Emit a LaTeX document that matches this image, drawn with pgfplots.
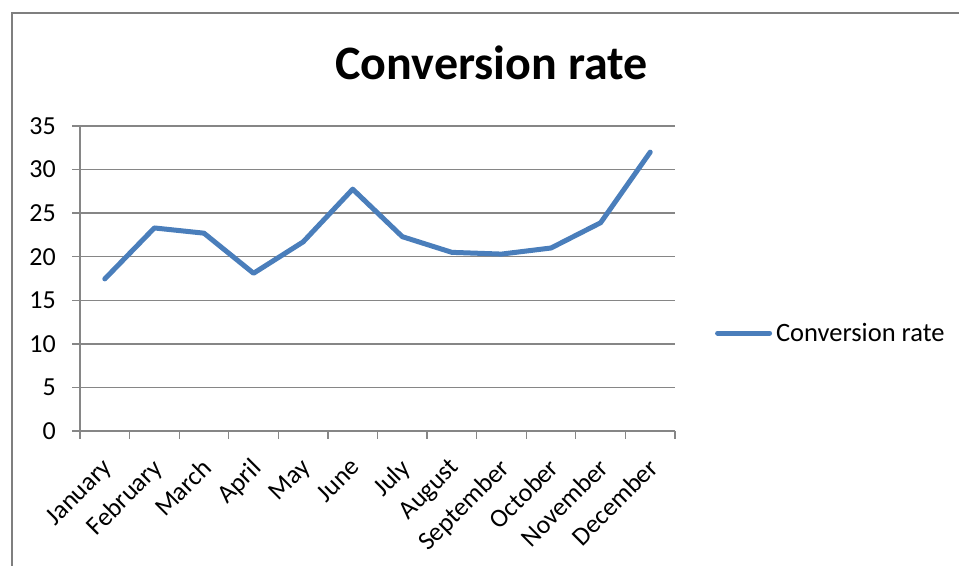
\documentclass[border=0pt]{standalone}
\usepackage{fontspec}
\setmainfont{Carlito}
\usepackage{pgfplots}
\pgfplotsset{compat=1.18}
\definecolor{seriesblue}{HTML}{4A7EBB}
\definecolor{axisgray}{HTML}{868686}
\definecolor{framegray}{HTML}{7F7F7F}
\begin{document}
\begin{tikzpicture}[x=1bp,y=1bp]
\path[use as bounding box] (0,0) rectangle (959,566);
% chart frame (left and top edges)
\draw[framegray, line width=2bp] (12,-5) -- (12,553) -- (965,553);
% chart title
\node[anchor=base, inner sep=0, font=\fontsize{48bp}{56bp}\selectfont\bfseries] at (491.5,486) {Conversion rate};
\begin{axis}[
  at={(80bp,135bp)}, anchor=south west,
  scale only axis, width=595bp, height=305bp,
  xmin=-0.5, xmax=11.5, ymin=0, ymax=35,
  ytick={0,5,...,35},
  xtick={0,...,11},
  xticklabels={January,February,March,April,May,June,July,August,September,October,November,December},
  minor xtick={-0.5,0.5,...,11.5},
  axis x line*=bottom, axis y line*=left,
  axis line style={axisgray, line width=1.3bp},
  tick align=outside,
  major tick length=8bp, minor tick length=8bp,
  major x tick style={draw=none},
  every tick/.style={axisgray, line width=1.3bp},
  ymajorgrids,
  major grid style={axisgray, line width=1.3bp},
  /pgf/number format/assume math mode=true,
  tick label style={font=\fontsize{26bp}{30bp}\selectfont, text=black},
  yticklabel style={inner sep=0pt, xshift=-16bp},
  xticklabel style={rotate=45, anchor=north east, inner sep=0pt, xshift=-15bp, yshift=-10bp},
  legend style={at={(1.067,0.321)}, anchor=west, draw=none, fill=none, inner sep=0pt,
    font=\fontsize{26.5bp}{30bp}\selectfont, nodes={inner sep=4bp}},
  legend image code/.code={\draw[#1] (0bp,0bp) -- (52bp,0bp);},
]
\addplot[seriesblue, line width=5bp, line join=round, line cap=round] coordinates {
  (0,17.45) (1,23.3) (2,22.7) (3,18.1) (4,21.7) (5,27.75)
  (6,22.3) (7,20.5) (8,20.3) (9,21.0) (10,23.9) (11,32.0)
};
\addlegendentry{Conversion rate}
\end{axis}
\end{tikzpicture}
\end{document}
